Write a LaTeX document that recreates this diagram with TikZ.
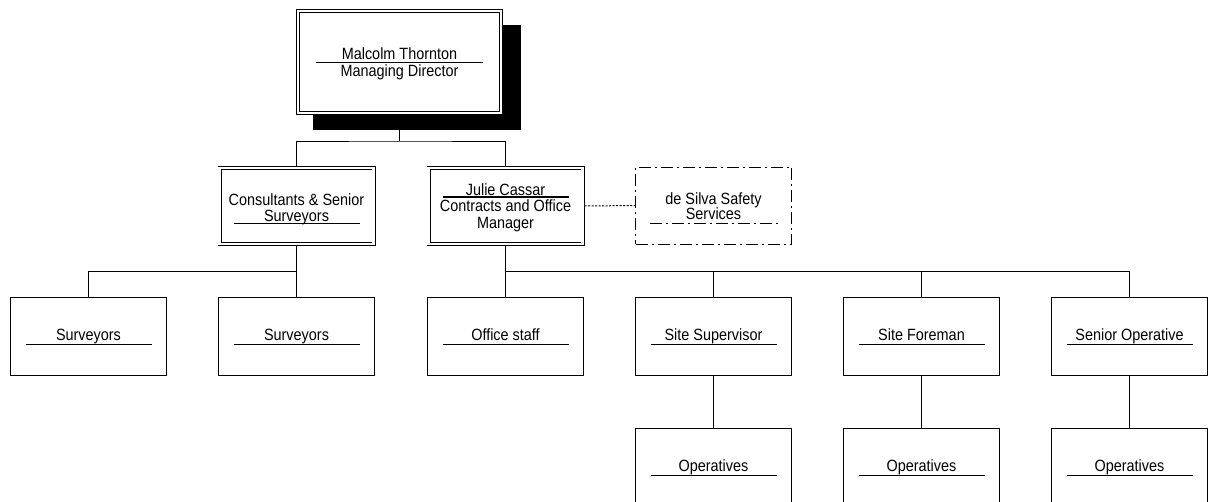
\documentclass[tikz,border=0pt]{standalone}
\usepackage{fontspec}
\setmainfont[FakeStretch=0.885]{Liberation Sans}
\usetikzlibrary{calc}
\begin{document}
\begin{tikzpicture}[x=1pt,y=-1pt,
  box/.style={draw,line width=1pt,fill=white,minimum width=156pt,minimum height=78pt,inner sep=0pt,outer sep=0.5pt},
  dbox/.style={draw,line width=0.9pt,double=white,double distance=2.2pt,fill=white,inner sep=0pt,outer sep=2pt},
  shadowbox/.style={fill=black,inner sep=0pt,minimum width=208pt,minimum height=105pt},
  txt/.style={font=\fontsize{16.3}{17}\selectfont,inner sep=0pt,anchor=base},
  uline/.style={line width=1.1pt},
  conn/.style={line width=1pt},
  dashdot/.style={dash pattern=on 12pt off 4pt on 2pt off 4pt},
  ]
\useasboundingbox (0,0) rectangle (1210,501);
\clip (0,0) rectangle (1210,501);

% helper coordinates for connector levels
\coordinate (y141) at (0,141);
\coordinate (y271) at (0,271);

% top
\node[shadowbox] (shadow) at (416.5,77.5) {};
\node[dbox,minimum width=203pt,minimum height=102pt] (top) at (399.5,62) {};
\node[txt] (topA) at ($(top.center)+(0,-3)$) {Malcolm Thornton};
\node[txt] (topB) at ($(top.center)+(0,14.7)$) {Managing Director};
\draw[uline] ($(top.center)+(-83.5,0.7)$) -- ++(167,0);

% level 2
\node[dbox,minimum width=154pt,minimum height=76pt] (cons) at (296.5,206) {};
\node[txt] (consA) at ($(cons.center)+(0,-1)$) {Consultants \& Senior};
\node[txt] (consB) at ($(cons.center)+(0,15)$) {Surveyors};
\draw[uline] ($(cons.center)+(-63,17.8)$) -- ++(126,0);

\node[dbox,minimum width=154pt,minimum height=76pt] (jul) at (505.5,206) {};
\node[txt] (julA) at ($(jul.center)+(0,-11)$) {Julie Cassar};
\node[txt] (julB) at ($(jul.center)+(0,5.7)$) {Contracts and Office};
\node[txt] (julC) at ($(jul.center)+(0,22.3)$) {Manager};
\draw[uline] ($(jul.center)+(-63,-9)$) -- ++(126,0);

\node[box,dashdot,minimum height=77pt] (ds) at (713.5,205.5) {};
\node[txt] (dsA) at ($(ds.center)+(0,-1.5)$) {de Silva Safety};
\node[txt] (dsB) at ($(ds.center)+(0,14)$) {Services};
\draw[uline,dashdot] ($(ds.center)+(-64,17.8)$) -- ++(128,0);

% level 3
\foreach \n/\x/\t in {s1/88.5/Surveyors,s2/296.5/Surveyors,os/505.5/Office staff,ss/713.5/Site Supervisor,sf/921.5/Site Foreman,so/1129.5/Senior Operative}{
  \node[box] (\n) at (\x,336.5) {};
  \node[txt] (\n t) at ($(\n.center)+(0,4)$) {\t};
  \draw[uline] ($(\n.center)+(-63,8.3)$) -- ++(126,0);
}

% level 4
\foreach \n/\x in {o1/713.5,o2/921.5,o3/1129.5}{
  \node[box] (\n) at (\x,467.5) {};
  \node[txt] (\n t) at ($(\n.center)+(0,4)$) {Operatives};
  \draw[uline] ($(\n.center)+(-63,8.3)$) -- ++(126,0);
}

% connectors
\draw[conn] (shadow.south -| top.south) -- (top.south |- y141);
\draw[conn] (cons.north) |- (top.south |- y141) -| (jul.north);
\draw[conn] (cons.south) -- (cons.south |- y271);
\draw[conn] (s1.north) |- (cons.south |- y271) -- (s2.north);
\draw[conn] (jul.south) -- (os.north);
\draw[conn] (jul.south |- y271) -| (so.north);
\draw[conn] (ss.north |- y271) -- (ss.north);
\draw[conn] (sf.north |- y271) -- (sf.north);
\draw[conn] (ss.south) -- (o1.north);
\draw[conn] (sf.south) -- (o2.north);
\draw[conn] (so.south) -- (o3.north);
\draw[line width=1pt,dash pattern=on 2pt off 1.5pt] (jul.east) -- (ds.west);
\end{tikzpicture}
\end{document}
